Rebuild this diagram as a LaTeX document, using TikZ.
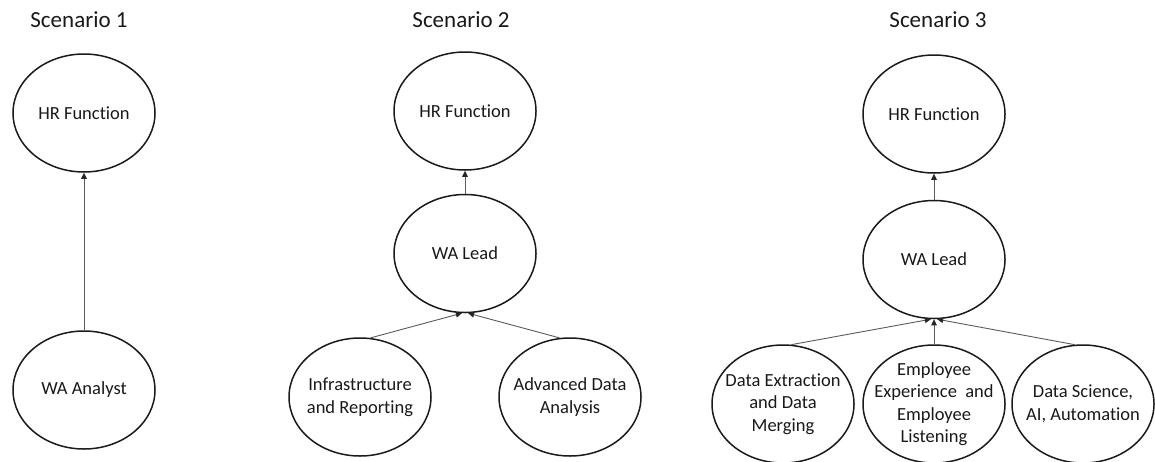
\documentclass[tikz,border=0pt]{standalone}
\usepackage{fontspec}
\setmainfont{Carlito}[Ligatures=NoCommon]
\usetikzlibrary{positioning,arrows.meta,shapes.geometric}
\definecolor{cRole}{HTML}{1A1A1A}
\definecolor{cLink}{HTML}{5A5A5A}
\tikzset{
  >={Triangle[length=6pt,width=5.5pt,color=black!85]},
  role/.style={ellipse,draw=cRole,line width=1.5pt,minimum width=142pt,minimum height=118pt,
               inner xsep=-14pt,inner ysep=-8pt,align=center,text=black!90,
               font=\fontsize{18.5}{22.5}\selectfont},
  ttl/.style={font=\fontsize{23}{26}\selectfont,text=black!90},
  link/.style={->,line width=0.9pt,cLink},
}

\begin{document}
\begin{tikzpicture}[x=1pt,y=-1pt]
  \useasboundingbox (0,0) rectangle (1155,461);
  % --- scenario 1 ---
  \node[ttl] (t1) at (79,20) {Scenario 1};
  \node[role] (hr1) at (84,113) {HR Function};
  \node[role] (an1) at (84,390) {WA Analyst};
  % --- scenario 2 ---
  \node[ttl] (t2) at (461,20) {Scenario 2};
  \node[role] (hr2) at (465,111) {HR Function};
  \node[role,below=23pt of hr2] (ld2) {WA Lead};
  \node[role] (inf2) at (360,397) {Infrastructure\\and Reporting};
  \node[role] (ada2) at (570,397) {Advanced Data\\Analysis};
  % --- scenario 3 ---
  \node[ttl] (t3) at (938,20) {Scenario 3};
  \node[role] (hr3) at (934,114) {HR Function};
  \node[role,below=26pt of hr3] (ld3) {WA Lead};
  \node[role] (de3) at (783,404) {Data Extraction\\and Data\\Merging};
  \node[role] (ee3) at (934,404) {Employee\\Experience\ \ and\\Employee\\Listening};
  \node[role] (ds3) at (1083,404) {Data Science,\\AI, Automation};
  % --- arrows ---
  \draw[link] (an1) -- (hr1);
  \draw[link] (ld2) -- (hr2);
  \draw[link] (inf2.80) -- (ld2.267);
  \draw[link] (ada2.100) -- (ld2.273);
  \draw[link] (ld3) -- (hr3);
  \draw[link] (de3.82) -- (ld3.267);
  \draw[link] (ee3) -- (ld3);
  \draw[link] (ds3.98) -- (ld3.273);
\end{tikzpicture}
\end{document}
